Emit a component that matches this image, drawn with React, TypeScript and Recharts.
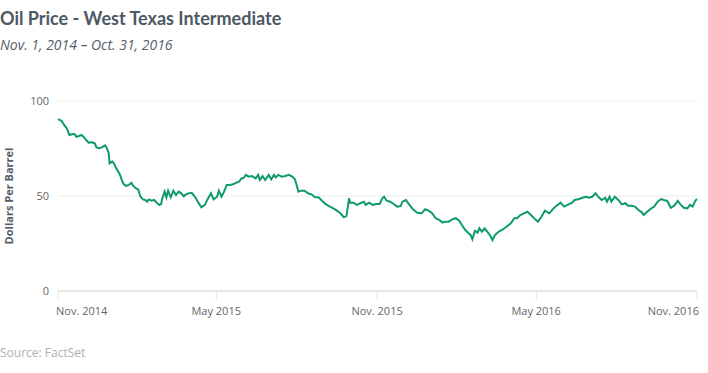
import React from 'react'
import { LineChart, Line, XAxis, YAxis, CartesianGrid } from 'recharts'

// days since Nov. 1, 2014
const days = [
  0, 4, 7, 10, 11, 13, 16, 19, 21, 24, 27, 30, 33, 35, 39, 42, 44, 47, 50, 54,
  56, 58, 59, 62, 64, 66, 69, 71, 73, 75, 78, 81, 84, 86, 89, 92, 94, 97, 100, 102,
  104, 107, 110, 113, 116, 118, 119, 122, 124, 126, 129, 132, 135, 138, 141, 144, 145, 149, 153, 157,
  161, 164, 168, 171, 175, 178, 182, 184, 187, 190, 193, 197, 201, 204, 207, 210, 212, 215, 218, 222,
  226, 229, 231, 234, 237, 241, 244, 247, 249, 252, 256, 260, 264, 268, 271, 273, 275, 278, 282, 286,
  290, 294, 298, 302, 306, 310, 315, 319, 323, 327, 330, 333, 334, 338, 342, 346, 350, 352, 356, 360,
  364, 368, 371, 373, 376, 380, 384, 388, 392, 394, 398, 402, 406, 411, 416, 420, 424, 428, 432, 436,
  440, 442, 447, 451, 455, 459, 462, 466, 469, 472, 474, 477, 480, 482, 485, 488, 491, 494, 497, 500,
  504, 508, 513, 518, 522, 525, 529, 533, 537, 541, 546, 549, 553, 557, 562, 566, 569, 575, 579, 583,
  588, 591, 596, 600, 604, 607, 611, 615, 618, 622, 626, 628, 631, 633, 637, 641, 645, 649, 652, 656,
  660, 664, 668, 670, 674, 678, 682, 686, 690, 693, 697, 701, 705, 709, 712, 716, 720, 723, 726, 729,
  731,
]

// WTI, dollars per barrel
const prices = [
  90.5, 89.6, 87.4, 85.6, 84.7, 82.1, 82.5, 82.6, 81.2, 81.6, 82.1, 80.7, 79.1, 78.1, 78.3, 77.7, 75.6, 75.1, 75.6, 76.7,
  75.1, 72.5, 67.2, 68.1, 67.2, 65.1, 62.8, 61.1, 58.4, 56.3, 55.3, 55.8, 57.0, 55.3, 54.1, 53.2, 50.0, 48.2, 47.9, 47.0,
  48.2, 47.5, 47.9, 46.5, 45.3, 45.8, 48.2, 52.3, 49.3, 52.8, 49.3, 52.8, 50.5, 52.3, 51.4, 49.8, 50.5, 51.4, 51.7, 49.3,
  46.2, 44.0, 45.3, 48.2, 51.4, 48.2, 49.6, 52.8, 49.6, 52.3, 55.8, 55.8, 56.3, 57.0, 57.5, 59.3, 59.3, 61.1, 60.2, 60.5,
  59.3, 61.1, 58.4, 60.5, 58.4, 61.1, 58.8, 61.1, 59.8, 61.1, 60.2, 60.5, 61.1, 60.2, 58.8, 55.8, 52.3, 52.8, 52.8, 51.4,
  50.9, 49.3, 49.3, 47.5, 45.8, 44.7, 43.5, 42.3, 40.9, 38.8, 39.5, 48.8, 46.5, 46.5, 45.3, 46.2, 47.0, 45.3, 46.5, 45.3,
  45.8, 45.8, 48.8, 49.6, 47.5, 47.0, 45.8, 44.4, 44.7, 47.0, 47.9, 45.3, 43.0, 41.2, 40.9, 43.0, 42.3, 40.9, 38.3, 37.4,
  36.0, 36.5, 36.5, 37.7, 38.3, 37.0, 34.7, 32.1, 30.7, 29.5, 27.2, 31.7, 30.7, 33.0, 31.2, 33.0, 31.2, 29.5, 26.8, 29.5,
  31.2, 32.1, 33.8, 35.6, 38.3, 38.3, 40.0, 40.9, 41.7, 40.0, 37.7, 36.5, 39.1, 42.3, 40.9, 43.0, 44.4, 46.5, 44.4, 45.3,
  46.5, 47.9, 48.4, 49.1, 49.6, 49.1, 49.6, 51.4, 49.6, 47.9, 49.1, 47.0, 49.6, 47.0, 49.6, 47.9, 45.6, 46.2, 44.9, 44.9,
  44.4, 42.6, 41.4, 40.0, 41.7, 43.2, 44.4, 47.0, 48.4, 47.9, 47.4, 43.8, 44.9, 47.4, 45.6, 43.8, 43.5, 45.3, 44.4, 47.4,
  48.4,
]

const tickDays = [0, 181, 365, 547, 731]
const tickLabels = ['Nov. 2014', 'May 2015', 'Nov. 2015', 'May 2016', 'Nov. 2016']
const yTicks = [0, 50, 100]

const data = days.map((d, i) => ({ day: d, price: prices[i] }))

const FONT = '"Open Sans", sans-serif'

// first label hangs right of its tick, last one left of it
const XTick = (props: any) => {
  const { x, y, payload, index } = props
  const anchor = index === 0 ? 'start' : index === tickDays.length - 1 ? 'end' : 'middle'
  const dx = index === 0 ? -2 : index === tickDays.length - 1 ? 2 : 0
  return (
    <text x={x + dx} y={y} dy="0.71em" textAnchor={anchor} fill="#666" fontSize={11} fontFamily={FONT}>
      {tickLabels[tickDays.indexOf(payload.value)]}
    </text>
  )
}

export default function App() {
  return (
    <div style={{ position: 'absolute', left: 0, top: 0, width: 708, height: 373, fontFamily: FONT }}>
      <div
        style={{
          position: 'absolute',
          left: 0,
          top: 6,
          fontSize: 18,
          fontWeight: 700,
          lineHeight: '24px',
          color: '#4d5965',
          fontFamily: 'Lato, sans-serif',
          whiteSpace: 'nowrap',
        }}
      >
        Oil Price - West Texas Intermediate
      </div>
      <div
        style={{
          position: 'absolute',
          left: 0,
          top: 35,
          fontSize: 14,
          fontStyle: 'italic',
          lineHeight: '20px',
          color: '#555e68',
          whiteSpace: 'nowrap',
        }}
      >
        Nov. 1, 2014 – Oct. 31, 2016
      </div>
      <div
        style={{
          position: 'absolute',
          left: 0,
          top: 344,
          fontSize: 12,
          lineHeight: '18px',
          color: '#b0b0b0',
          whiteSpace: 'nowrap',
        }}
      >
        Source: FactSet
      </div>
      <div style={{ position: 'absolute', left: 0, top: 0 }}>
        <LineChart width={708} height={373} data={data} margin={{ top: 101, right: 11, left: 0, bottom: 52 }}>
          <CartesianGrid vertical={false} stroke="#ececec" strokeWidth={1} />
          <XAxis
            dataKey="day"
            type="number"
            domain={[0, 731]}
            ticks={tickDays}
            interval={0}
            height={30}
            axisLine={{ stroke: '#e6e6e6', strokeWidth: 2 }}
            tickLine={{ stroke: '#e6e6e6' }}
            tickSize={9}
            tickMargin={7}
            tick={XTick}
          />
          <YAxis
            type="number"
            domain={[0, 100]}
            ticks={yTicks}
            width={58}
            axisLine={false}
            tickLine={false}
            tickMargin={3}
            tick={{ fill: '#666', fontSize: 11, fontFamily: FONT }}
            label={() => (
              <text
                x={8}
                y={196}
                transform="rotate(-90 8 196)"
                textAnchor="middle"
                dominantBaseline="central"
                fill="#555e68"
                fontSize={11}
                fontWeight={700}
                fontFamily={FONT}
              >
                Dollars Per Barrel
              </text>
            )}
          />
          <Line
            type="linear"
            dataKey="price"
            stroke="#0f9a6b"
            strokeWidth={2}
            dot={false}
            isAnimationActive={false}
          />
        </LineChart>
      </div>
    </div>
  )
}
